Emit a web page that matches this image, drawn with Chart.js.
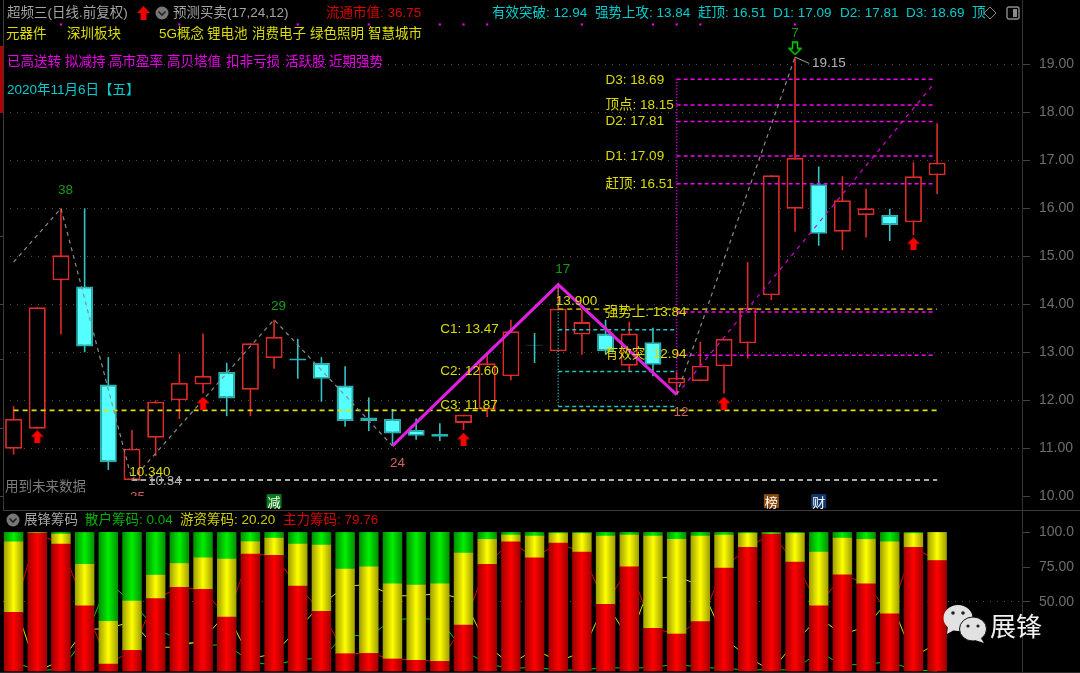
<!DOCTYPE html>
<html>
<head>
<meta charset="utf-8">
<script src="https://cdn.jsdelivr.net/npm/chart.js@4/dist/chart.umd.min.js"></script>
<style>
html, body { margin: 0; background: #000; overflow: hidden; }
#page { position: relative; width: 1080px; height: 673px; background: #000; font-family: "Liberation Sans", "Noto Sans CJK SC", sans-serif; }
canvas { position: absolute; left: 0; display: block; }
.t { position: absolute; font-size: 13.5px; line-height: 16px; height: 16px; white-space: nowrap; }
svg { position: absolute; }
</style>
</head>
<body>
<div id="page">
  <canvas id="main" width="1080" height="510" style="top:0"></canvas>
  <canvas id="vol" width="1080" height="163" style="top:510px"></canvas>
  <div style="position:absolute;left:0;top:46px;width:3px;height:67px;background:#b30000"></div>
  <div style="position:absolute;left:3px;top:510px;width:1077px;height:1px;background:#3a3a3a"></div>
  <div style="position:absolute;left:0;top:672px;width:1080px;height:1px;background:#2a2a2a"></div>
  <svg style="left:136px;top:5px" width="15" height="16" viewBox="0 0 15 16"><path d="M7.5 1 L14 8 L10.5 8 L10.5 15 L4.5 15 L4.5 8 L1 8 Z" fill="#f00000"/></svg>
  <svg style="left:155px;top:6px" width="14" height="14" viewBox="0 0 14 14"><circle cx="7" cy="7" r="6.5" fill="#777"/><path d="M3.5 5.5 L7 9 L10.5 5.5" stroke="#222" stroke-width="1.6" fill="none"/></svg>
  <svg style="left:6px;top:513px" width="14" height="14" viewBox="0 0 14 14"><circle cx="7" cy="7" r="6.5" fill="#777"/><path d="M3.5 5.5 L7 9 L10.5 5.5" stroke="#222" stroke-width="1.6" fill="none"/></svg>
  <svg style="left:983px;top:6px" width="14" height="14" viewBox="0 0 14 14"><path d="M7 1 L13 7 L7 13 L1 7 Z" stroke="#8a8a8a" fill="none"/></svg>
  <svg style="left:1006px;top:6px" width="14" height="14" viewBox="0 0 14 14"><rect x="1" y="1" width="12" height="12" rx="2" stroke="#8a8a8a" stroke-width="1.4" fill="none"/><rect x="7" y="3" width="4" height="8" fill="#8a8a8a"/></svg>
  <svg style="left:943px;top:603px" width="48" height="42" viewBox="0 0 48 42">
    <ellipse cx="15" cy="15" rx="14.5" ry="13" fill="#e2e2e2"/><path d="M5 23 L4 31 L13 26 Z" fill="#e2e2e2"/>
    <circle cx="10" cy="10" r="1.8" fill="#222"/><circle cx="20" cy="10" r="1.8" fill="#222"/>
    <ellipse cx="30" cy="26" rx="13.5" ry="12" fill="#e2e2e2" stroke="#111" stroke-width="1"/><path d="M37 34 L41 40 L32 37 Z" fill="#e2e2e2"/>
    <circle cx="25" cy="23" r="1.6" fill="#222"/><circle cx="35" cy="23" r="1.6" fill="#222"/>
  </svg>
  <div class="t" style="left:990px;top:609px;height:32px;line-height:32px;font-size:26px;color:#f2f2f2;font-family:'Noto Sans CJK SC'">展锋</div>
</div>
<script>
// K线数据
var opens  = [10.99,11.41,14.50,14.37,12.33,10.34,11.22,12.00,12.33,12.59,12.22,12.88,12.87,12.78,12.31,11.64,11.61,11.38,11.30,11.53,11.81,12.50,13.16,13.02,13.37,13.39,12.72,13.21,12.35,12.40,12.71,13.19,14.19,15.99,16.50,15.51,15.86,15.86,15.71,16.69]
var closes = [11.61,13.94,15.02,13.12,10.71,10.99,11.97,12.36,12.51,12.04,13.19,13.32,12.83,12.45,11.57,11.57,11.31,11.26,11.24,11.70,12.77,13.44,13.14,13.91,13.63,13.02,13.39,12.74,12.47,12.72,13.28,13.93,16.69,17.05,15.47,16.17,16.00,15.65,16.67,16.95]
var highs  = [11.88,13.94,16.00,16.00,12.90,11.38,12.00,12.97,13.39,12.78,13.19,13.68,13.28,12.90,12.71,12.06,11.82,11.62,11.52,11.70,12.99,13.68,13.40,14.41,13.89,13.68,13.64,13.51,12.60,13.22,13.28,14.88,16.69,19.15,16.87,16.67,16.41,15.99,16.96,17.77]
var lows   = [10.87,11.41,13.37,13.00,10.55,10.34,10.84,11.61,12.14,11.67,11.67,12.66,12.45,11.97,11.45,11.36,11.05,11.18,11.15,11.38,11.65,12.42,12.78,13.02,12.95,12.95,12.60,12.50,12.12,12.40,12.14,12.87,14.09,15.51,15.22,15.13,15.39,15.32,15.44,16.30]

// 虚线折线与强势折线
var zigIdx  = [0,2,5,11,16]
var zigVals = [14.88,16.00,10.34,13.68,11.05]
var upIdx   = [28,33]
var upVals  = [12.12,19.15]
var waveIdx  = [16,23,28]
var waveVals = [11.05,14.41,12.12]
var fanIdx  = [28,38.87]
var fanVals = [12.12,18.60]

// 水平线
var topLevels = [18.69,18.15,17.81,17.09,16.51,13.84,12.94]
var cLevels   = [13.47,12.60,11.87]
var pressure  = 13.90
var support   = 11.79
var lowLevel  = 10.34

// 标记
var buyIdx  = [1,8,19,30,38]
var buyVals = [11.24,11.94,11.19,11.94,15.26]
var dotIdx  = [2,7,12,15,18,19,20,24,27,28,29,33]
var dotLevel = 19.83
var priceTicks = [19,18,17,16,15,14,13,12,11,10]
var sideTicks  = [15.41,13.99,12.84,11.42,9.99]

// 筹码
var retail = [6.7,0.3,1.2,23.1,64.2,49.5,30.8,22.4,18.3,19.2,6.7,4.1,8.4,9.1,26.4,24.8,37,38,37,14.9,5,1.9,2.6,0.7,0.7,2.6,1.9,2.6,5,2.6,1.9,0.7,1.0,0.7,14.2,4.1,5,6.7,0.7,0.04]
var hot    = [51,0.2,7.2,29.8,30.8,35.6,17,17.3,22.8,41.9,8.9,12.5,30.3,47.9,61.1,62.5,54.3,54.3,56,51.9,18.1,4.8,15.7,7,13.5,49.3,22.9,66.6,68.3,61.8,23.8,10.1,0.2,20.7,38.7,26.4,32,52,10.1,20.2]
var major  = [42.3,99.5,91.6,47.1,5,14.9,52.2,60.3,58.9,38.9,84.4,83.4,61.3,43,12.5,12.7,8.7,7.7,7,33.2,76.9,93.3,81.7,92.3,85.8,48.1,75.2,30.8,26.7,35.6,74.3,89.2,98.8,78.6,47.1,69.5,63,41.3,89.2,79.76]
var chipTicks = [100,75,50]

var red = '#e02a2a'
var cyan = '#55ffff'
var magenta = '#f400f4'
var yellowText = '#dcdc00'

// 顶部文字
var headTexts = [
    ['超频三(日线.前复权)',7,13,'#a4a4a4'], ['预测买卖(17,24,12)',173,13,'#a4a4a4'], ['流通市值: 36.75',326,13,'#d80000'],
    ['有效突破: 12.94',492,13,'#00cccc'], ['强势上攻: 13.84',595,13,'#00cccc'], ['赶顶: 16.51',698,13,'#00cccc'],
    ['D1: 17.09',773,13,'#00cccc'], ['D2: 17.81',840,13,'#00cccc'], ['D3: 18.69',906,13,'#00cccc'], ['顶',972,13,'#00cccc'],
    ['元器件',6,34,'#dcdc00'], ['深圳板块',67,34,'#dcdc00'], ['5G概念',159,34,'#dcdc00'], ['锂电池',207,34,'#dcdc00'],
    ['消费电子',252,34,'#dcdc00'], ['绿色照明',310,34,'#dcdc00'], ['智慧城市',368,34,'#dcdc00'],
    ['已高送转',7,62,'#e800e8'], ['拟减持',65,62,'#e800e8'], ['高市盈率',109,62,'#e800e8'], ['高贝塔值',167,62,'#e800e8'],
    ['扣非亏损',226,62,'#e800e8'], ['活跃股',285,62,'#e800e8'], ['近期强势',329,62,'#e800e8'],
    ['2020年11月6日【五】',7,90,'#00cccc'], ['用到未来数据',5,487,'#7c7c7c'],
    ['展锋筹码',24,520,'#a4a4a4'], ['散户筹码: 0.04',85,520,'#00b000'], ['游资筹码: 20.20',180,520,'#cccc00'], ['主力筹码: 79.76',283,520,'#d80000']
]
var page = document.getElementById('page')
headTexts.forEach((h)=>{
    var el = document.createElement('div')
    el.className = 't'
    el.textContent = h[0]
    el.style.left = h[1] + 'px'
    el.style.top = (h[2] - 8) + 'px'
    el.style.color = h[3]
    page.appendChild(el)
})

// 图上的标注: 文字, 序号, 价位, 颜色
var chartLabels = [
    ['D3: 18.69',25,18.67,yellowText], ['顶点: 18.15',25,18.15,yellowText], ['D2: 17.81',25,17.81,yellowText],
    ['D1: 17.09',25,17.09,yellowText], ['赶顶: 16.51',25,16.51,yellowText], ['强势上: 13.84',24.96,13.84,yellowText],
    ['有效突: 12.94',24.96,12.96,yellowText], ['C1: 13.47',18.02,13.47,yellowText], ['C2: 12.60',18.02,12.60,yellowText],
    ['C3: 11.87',18.02,11.89,yellowText], ['13.900',22.9,14.07,yellowText], ['10.340',4.88,10.50,yellowText],
    ['10.34',5.68,10.32,'#b0b0b0'], ['19.15',33.72,19.02,'#b0b0b0'],
    ['38',1.87,16.38,'#189a18'], ['29',10.87,13.96,'#189a18'], ['17',22.87,14.74,'#189a18'], ['7',32.84,19.65,'#189a18'],
    ['24',15.9,10.69,'#d06060'], ['12',27.87,11.76,'#d06060'], ['35',4.92,9.99,'#d06060']
]
var flags = [['减',11,'#0a7a1a'], ['榜',32,'#8a4a10'], ['财',34,'#103a70']]
var flagLevel = 9.9

var labelPlugin = {
    id: 'labelPlugin',
    afterDatasetsDraw(chart){
        var c = chart.ctx, sx = chart.scales.x, sy = chart.scales.y
        c.save()
        c.textBaseline = 'middle'
        c.font = '13.5px "Liberation Sans", "Noto Sans CJK SC"'
        chartLabels.forEach((l)=>{
            c.save()
            if (l[0] === '35') {
                // 这个数字在图里被副图挡住了下半截
                c.beginPath()
                c.rect(0, 0, chart.width, 496)
                c.clip()
            }
            c.fillStyle = l[3]
            c.textAlign = 'left'
            c.fillText(l[0], sx.getPixelForValue(l[1]), sy.getPixelForValue(l[2]))
            c.restore()
        })
        flags.forEach((f)=>{
            var px = sx.getPixelForValue(f[1]), py = sy.getPixelForValue(flagLevel)
            c.fillStyle = f[2]
            c.fillRect(px - 7.5, py - 7, 15, 14)
            c.fillStyle = '#fff'
            c.textAlign = 'center'
            c.font = '13px "Noto Sans CJK SC"'
            c.fillText(f[0], px, py + 0.5)
        })
        c.restore()
    }
}

function arrowIcon(w, h, draw){
    var cv = document.createElement('canvas')
    cv.width = w
    cv.height = h
    var g = cv.getContext('2d')
    draw(g)
    return cv
}
var redArrow = arrowIcon(13, 13, (g)=>{
    g.fillStyle = '#ff0000'
    g.beginPath()
    g.moveTo(6.5,0); g.lineTo(13,6.5); g.lineTo(9.5,6.5); g.lineTo(9.5,13); g.lineTo(3.5,13); g.lineTo(3.5,6.5); g.lineTo(0,6.5)
    g.closePath()
    g.fill()
})
var greenArrow = arrowIcon(14, 14, (g)=>{
    g.strokeStyle = '#00d800'
    g.lineWidth = 1.4
    g.beginPath()
    g.moveTo(4.5,1); g.lineTo(9.5,1); g.lineTo(9.5,7); g.lineTo(13,7); g.lineTo(7,13); g.lineTo(1,7); g.lineTo(4.5,7)
    g.closePath()
    g.stroke()
})

function seg(xs, ys){
    return xs.map((x,i)=>({x:x, y:ys[i]}))
}
function lineSet(xs, ys, color, width, dash, order){
    return {type:'line', data:seg(xs,ys), borderColor:color, borderWidth:width, borderDash:dash, pointRadius:0, tension:0, order:order}
}
// 刻度文字不要把绘图区顶开
function fitAxis(width){
    return (s)=>{
        s.width = width
        s.paddingTop = 0
        s.paddingBottom = 0
    }
}

var idx = opens.map((v,i)=>i)
var isUp = opens.map((v,i)=>closes[i] >= v)
var xMin = -0.4476
var xMax = 42.585

var levelSets = []
topLevels.forEach((v)=>levelSets.push(lineSet([28,38.87],[v,v],magenta,1.5,[4,3],3)))
cLevels.forEach((v)=>levelSets.push(lineSet([23,28],[v,v],'#1fc4c4',1.4,[4,3],3)))

new Chart(document.getElementById('main').getContext('2d'), {
    type: 'bar',
    data: {
        datasets: [
            {data:idx.map((i)=>({x:i,y:[lows[i],highs[i]]})), backgroundColor:idx.map((i)=>isUp[i]?red:'#35c4c4'), maxBarThickness:1.6, grouped:false, order:6},
            {data:idx.map((i)=>({x:i,y:[opens[i],closes[i]]})), backgroundColor:idx.map((i)=>isUp[i]?'#000':cyan), borderColor:idx.map((i)=>isUp[i]?red:'#2ab0b0'), borderWidth:1.8, borderSkipped:false, maxBarThickness:17, grouped:false, order:5},
            lineSet(zigIdx,zigVals,'#8a8a8a',1.2,[4,4],3),
            lineSet(upIdx,upVals,'#8a8a8a',1.2,[4,4],3),
            lineSet(fanIdx,fanVals,'#d800d8',1.2,[4,5],3),
            lineSet([33,33.6],[19.15,19.02],'#a0a0a0',1,[],3),
            lineSet([5,5.6],[10.34,10.34],'#a0a0a0',1,[],3)
        ].concat(levelSets).concat([
            lineSet([23,39],[pressure,pressure],'#b0a800',1.6,[5,4],3),
            lineSet([0,39],[support,support],'#e0e000',1.6,[5,4],3),
            lineSet([5,39],[lowLevel,lowLevel],'#e8e8e8',1.6,[5,4],3),
            lineSet([23,23],[14.41,cLevels[2]],'#1fd0d0',1.3,[1,2],3),
            lineSet([28,28],[topLevels[0],12.12],magenta,1.6,[1,2],3),
            lineSet(waveIdx,waveVals,'#e020e0',3,[],2),
            {type:'line', data:seg(dotIdx,dotIdx.map(()=>dotLevel)), showLine:false, pointStyle:'rect', pointRadius:1.5, pointBackgroundColor:magenta, pointBorderWidth:0, order:1},
            {type:'line', data:seg(buyIdx,buyVals), showLine:false, pointStyle:redArrow, order:1},
            {type:'line', data:[{x:33,y:19.33}], showLine:false, pointStyle:greenArrow, order:1}
        ])
    },
    options: {
        responsive: false,
        animation: false,
        layout: {padding:0, autoPadding:false},
        plugins: {legend:{display:false}, tooltip:{enabled:false}},
        scales: {
            x: {type:'linear', min:xMin, max:xMax, offset:false, display:false},
            y: {
                position: 'right', min: 9.715, max: 20.34,
                afterBuildTicks: (s)=>{ s.ticks = priceTicks.map((v)=>({value:v})) },
                afterFit: fitAxis(58),
                grid: {color:(ctx)=>ctx.tick && ctx.tick.value === 10 ? 'transparent' : '#4a4a4a', tickColor:'#444', tickLength:8},
                border: {color:'#333', dash:[1,6]},
                ticks: {color:'#6e6e6e', padding:9, font:{family:'Liberation Sans', size:14}, callback:(v)=>v.toFixed(2)}
            },
            y2: {
                position: 'left', min: 9.715, max: 20.34,
                afterBuildTicks: (s)=>{ s.ticks = sideTicks.map((v)=>({value:v})) },
                afterFit: fitAxis(3),
                grid: {drawOnChartArea:false, color:'#444', tickLength:3},
                border: {color:'#3a3a3a'},
                ticks: {display:false}
            }
        }
    },
    plugins: [labelPlugin]
})

// 柱子的横向渐变
function barFill(edge, mid){
    return (ctx)=>{
        if (ctx.dataIndex === undefined) return mid
        var px = ctx.chart.scales.x.getPixelForValue(ctx.dataIndex)
        if (!isFinite(px)) return mid
        var g = ctx.chart.ctx.createLinearGradient(px - 9.5, 0, px + 9.5, 0)
        g.addColorStop(0, edge)
        g.addColorStop(0.5, mid)
        g.addColorStop(1, edge)
        return g
    }
}
function chipBar(vals, edge, mid){
    return {data:seg(idx,vals), backgroundColor:barFill(edge,mid), barThickness:18.8, stack:'chips', order:1}
}
function chipLine(vals, color, name){
    return {type:'line', data:seg(idx,vals), borderColor:color, borderWidth:1, pointRadius:0, tension:0, stack:name, order:2}
}

new Chart(document.getElementById('vol').getContext('2d'), {
    type: 'bar',
    data: {
        datasets: [
            chipBar(major,'#a00000','#ff0000'),
            chipBar(hot,'#a0a000','#ffff00'),
            chipBar(retail,'#009000','#00f000'),
            chipLine(major,'#e00000','lineMajor'),
            chipLine(hot,'#e0e000','lineHot'),
            chipLine(retail,'#00d000','lineRetail')
        ]
    },
    options: {
        responsive: false,
        animation: false,
        layout: {padding:{left:3}, autoPadding:false},
        plugins: {legend:{display:false}, tooltip:{enabled:false}},
        scales: {
            x: {type:'linear', stacked:true, min:xMin, max:xMax, offset:false, display:false},
            y: {
                position: 'right', stacked: true, min: -1.44, max: 116.2,
                afterBuildTicks: (s)=>{ s.ticks = chipTicks.map((v)=>({value:v})) },
                afterFit: fitAxis(58),
                grid: {color:(ctx)=>ctx.tick && ctx.tick.value === 50 ? '#4a4a4a' : 'transparent', tickColor:'#444', tickLength:8},
                border: {color:'#333', dash:[1,6]},
                ticks: {color:'#6e6e6e', padding:9, font:{family:'Liberation Sans', size:14}, callback:(v)=>v === 100 ? '100.0' : v.toFixed(2)}
            }
        }
    }
})
</script>
</body>
</html>
